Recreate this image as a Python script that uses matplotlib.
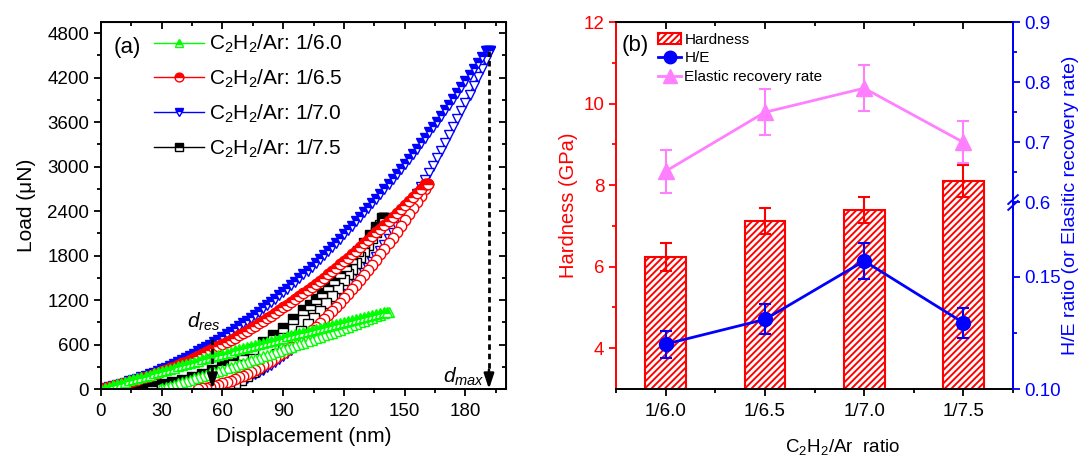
import numpy as np
import matplotlib.pyplot as plt
from matplotlib.ticker import MultipleLocator, FixedLocator
from matplotlib.lines import Line2D
from matplotlib.patches import Patch

plt.rcParams['font.family'] = ['Liberation Sans', 'DejaVu Sans']
plt.rcParams['mathtext.fontset'] = 'custom'
plt.rcParams['mathtext.rm'] = 'Liberation Sans'
plt.rcParams['mathtext.it'] = 'Liberation Sans:italic'
plt.rcParams['hatch.linewidth'] = 1.4

# ---- (a) load-displacement curves: displacement (nm), load (uN) ----
# C2H2/Ar = 1/6.0
g_load_h = [0, 2, 4, 6, 8, 10, 12, 14, 16, 18, 20, 22, 24, 26, 28, 30, 32, 34, 36, 38, 40, 42,
            44, 46, 48, 50, 52, 54, 56, 58, 60, 62, 64, 66, 68, 70, 72, 74, 76, 78, 80, 82, 84,
            86, 88, 90, 92, 94, 96, 98, 100, 102, 104, 106, 108, 110, 112, 114, 116, 118, 120,
            122, 124, 126, 128, 130, 132, 134, 136, 138, 140, 141]
g_load_p = [0, 17, 33, 50, 66, 82, 99, 115, 131, 147, 163, 179, 195, 211, 227, 243, 259, 275,
            290, 306, 322, 337, 353, 368, 383, 399, 414, 429, 444, 460, 475, 490, 505, 520, 534,
            549, 564, 579, 593, 608, 622, 637, 651, 666, 680, 694, 709, 723, 737, 751, 765, 779,
            793, 807, 821, 834, 848, 862, 875, 889, 902, 916, 929, 943, 956, 969, 982, 996, 1009,
            1022, 1035, 1041]
g_unload_h = [142, 140, 138, 136, 134, 132, 130, 128, 126, 124, 122, 120, 118, 116, 114, 112,
              110, 108, 106, 104, 102, 100, 98, 96, 94, 92, 90, 88, 86, 84, 82, 80, 78, 76, 74,
              72, 70, 68, 66, 64, 62, 60, 58, 56, 54, 52, 50, 48, 46, 44, 42, 40, 38, 36, 34, 32,
              30, 29]
g_unload_p = [1040, 1020, 1000, 979, 959, 939, 919, 899, 879, 859, 840, 820, 800, 781, 761, 742,
              723, 703, 684, 665, 646, 627, 608, 589, 571, 552, 533, 515, 496, 478, 460, 441, 423,
              405, 387, 369, 351, 333, 316, 298, 280, 263, 245, 228, 211, 193, 176, 159, 142, 125,
              108, 91, 75, 58, 41, 25, 8, 0]

# C2H2/Ar = 1/6.5
r_load_h = [0, 2, 4, 6, 8, 10, 12, 14, 16, 18, 20, 22, 24, 26, 28, 30, 32, 34, 36, 38, 40, 42,
            44, 46, 48, 50, 52, 54, 56, 58, 60, 62, 64, 66, 68, 70, 72, 74, 76, 78, 80, 82, 84,
            86, 88, 90, 92, 94, 96, 98, 100, 102, 104, 106, 108, 110, 112, 114, 116, 118, 120,
            122, 124, 126, 128, 130, 132, 134, 136, 138, 140, 142, 144, 146, 148, 150, 152, 154,
            156, 158, 160, 160.5, 161, 161.5]
r_load_p = [0, 12, 24, 37, 51, 65, 80, 95, 111, 127, 144, 162, 180, 199, 218, 238, 258, 279,
            301, 323, 346, 369, 393, 418, 443, 468, 494, 521, 549, 576, 605, 634, 664, 694, 725,
            756, 788, 820, 853, 887, 921, 956, 991, 1027, 1064, 1101, 1139, 1177, 1216, 1255,
            1295, 1336, 1377, 1418, 1461, 1503, 1547, 1591, 1635, 1680, 1726, 1772, 1819, 1867,
            1915, 1963, 2012, 2062, 2112, 2163, 2215, 2267, 2319, 2372, 2426, 2480, 2535, 2590,
            2647, 2703, 2760, 2762, 2762, 2760]
r_unload_h = [161.5, 160, 158, 156, 154, 152, 150, 148, 146, 144, 142, 140, 138, 136, 134, 132,
              130, 128, 126, 124, 122, 120, 118, 116, 114, 112, 110, 108, 106, 104, 102, 100, 98,
              96, 94, 92, 90, 88, 86, 84, 82, 80, 78, 76, 74, 72, 70, 68, 66, 64, 62, 60, 58, 56,
              54, 52, 50, 48]
r_unload_p = [2760, 2695, 2608, 2522, 2438, 2355, 2274, 2194, 2116, 2038, 1963, 1888, 1816, 1744,
              1674, 1605, 1538, 1472, 1408, 1345, 1284, 1223, 1165, 1108, 1051, 997, 944, 892,
              842, 793, 746, 700, 655, 612, 570, 530, 491, 454, 417, 383, 349, 318, 287, 258, 230,
              204, 179, 156, 134, 114, 94, 77, 60, 45, 32, 20, 9, 0]

# C2H2/Ar = 1/7.0
b_load_h = [0, 2, 4, 6, 8, 10, 12, 14, 16, 18, 20, 22, 24, 26, 28, 30, 32, 34, 36, 38, 40, 42,
            44, 46, 48, 50, 52, 54, 56, 58, 60, 62, 64, 66, 68, 70, 72, 74, 76, 78, 80, 82, 84,
            86, 88, 90, 92, 94, 96, 98, 100, 102, 104, 106, 108, 110, 112, 114, 116, 118, 120,
            122, 124, 126, 128, 130, 132, 134, 136, 138, 140, 142, 144, 146, 148, 150, 152, 154,
            156, 158, 160, 162, 164, 166, 168, 170, 172, 174, 176, 178, 180, 182, 184, 186, 188,
            190, 190.5, 191, 191.5, 192]
b_load_p = [0, 12, 26, 39, 54, 69, 86, 103, 120, 139, 158, 178, 199, 220, 242, 265, 289, 314,
            339, 365, 392, 419, 448, 477, 506, 537, 568, 600, 633, 667, 701, 736, 772, 809, 846,
            885, 923, 963, 1004, 1045, 1087, 1129, 1173, 1217, 1262, 1308, 1354, 1402, 1450,
            1498, 1548, 1598, 1649, 1701, 1754, 1807, 1861, 1916, 1972, 2028, 2085, 2143, 2202,
            2261, 2321, 2382, 2444, 2506, 2569, 2633, 2698, 2764, 2830, 2897, 2965, 3033, 3102,
            3172, 3243, 3315, 3387, 3460, 3534, 3608, 3684, 3760, 3837, 3914, 3993, 4072, 4152,
            4232, 4314, 4396, 4479, 4562, 4562, 4562, 4560, 4558]
b_unload_h = [192, 190, 188, 186, 184, 182, 180, 178, 176, 174, 172, 170, 168, 166, 164, 162, 160,
              158, 156, 154, 152, 150, 148, 146, 144, 142, 140, 138, 136, 134, 132, 130, 128, 126,
              124, 122, 120, 118, 116, 114, 112, 110, 108, 106, 104, 102, 100, 98, 96, 94, 92, 90,
              88, 86, 84, 82, 80, 78, 76, 74, 72, 70, 68, 66, 64, 62, 60, 58, 57]
b_unload_p = [4558, 4440, 4320, 4203, 4087, 3972, 3859, 3748, 3639, 3531, 3424, 3319, 3216, 3114,
              3014, 2916, 2819, 2724, 2630, 2538, 2448, 2359, 2272, 2187, 2102, 2020, 1939, 1860,
              1782, 1707, 1632, 1559, 1488, 1419, 1351, 1284, 1220, 1156, 1095, 1035, 977, 920,
              865, 811, 759, 709, 660, 613, 568, 524, 481, 440, 401, 364, 328, 294, 261, 230, 200,
              172, 146, 122, 98, 77, 57, 39, 22, 7, 0]

# C2H2/Ar = 1/7.5
k_load_h = [0, 5, 10, 15, 20, 25, 30, 35, 40, 45, 50, 55, 60, 65, 70, 75, 80, 85, 90, 95, 100,
            103, 106, 109, 112, 115, 118, 121, 124, 127, 130, 133, 136, 139, 139.5, 140]
k_load_p = [0, 1, 5, 12, 24, 41, 63, 90, 123, 163, 208, 260, 319, 386, 459, 540, 628, 724, 828,
            940, 1061, 1137, 1216, 1299, 1385, 1473, 1565, 1660, 1759, 1860, 1965, 2073, 2185,
            2300, 2302, 2300]
k_unload_h = [140, 138, 136, 134, 132, 130, 128, 126, 124, 122, 120, 117, 114, 111, 108, 105, 102,
              99, 96, 93, 90, 87, 84, 81, 78, 75, 72, 69, 66, 63, 60]
k_unload_p = [2300, 2210, 2121, 2034, 1949, 1866, 1784, 1704, 1625, 1548, 1473, 1364, 1258, 1156,
              1058, 963, 873, 786, 703, 624, 548, 476, 408, 344, 284, 227, 174, 125, 79, 38, 0]

d_res, d_res_top = 55, 670
d_max, d_max_top = 191.6, 4560

# ---- (b) mechanical properties vs. gas ratio ----
ratios = ['1/6.0', '1/6.5', '1/7.0', '1/7.5']
hardness = [6.24, 7.12, 7.40, 8.10]
hardness_err = [0.35, 0.33, 0.32, 0.40]
h_over_e = [0.120, 0.131, 0.157, 0.1295]
h_over_e_err = [0.006, 0.0067, 0.008, 0.0066]
recovery = [0.652, 0.750, 0.790, 0.700]
recovery_err = [0.036, 0.038, 0.038, 0.035]

GREEN, RED, BLUE, BLACK, PINK = '#00FF00', '#FF0000', '#0000FF', '#000000', '#FF80FF'


def ticks_style(a, major=5, minor=3):
    a.tick_params(which='major', length=major, width=1.3)
    a.tick_params(which='minor', length=minor, width=1.3)


fig = plt.figure(figsize=(10.8, 4.59), dpi=100)
ax = fig.add_axes([0.0935, 0.1525, 0.375, 0.7995])

series = [
    (b_load_h, b_load_p, b_unload_h, b_unload_p, BLUE, 'v', 'C$_2$H$_2$/Ar: 1/7.0'),
    (k_load_h, k_load_p, k_unload_h, k_unload_p, BLACK, 's', 'C$_2$H$_2$/Ar: 1/7.5'),
    (r_load_h, r_load_p, r_unload_h, r_unload_p, RED, 'o', 'C$_2$H$_2$/Ar: 1/6.5'),
    (g_load_h, g_load_p, g_unload_h, g_unload_p, GREEN, '^', 'C$_2$H$_2$/Ar: 1/6.0'),
]
handles = {}
for lh, lp, uh, up, c, m, lab in series:
    ms = 6.5 if m == 's' else 7.5
    ax.plot(uh, up, color=c, lw=1, marker=m, ms=ms, mfc='white', mec=c, mew=1)
    line, = ax.plot(lh, lp, color=c, lw=1, marker=m, ms=ms, fillstyle='top',
                    mfc=c, mfcalt='white', mec=c, mew=1, label=lab)
    handles[lab] = line

order = ['C$_2$H$_2$/Ar: 1/6.0', 'C$_2$H$_2$/Ar: 1/6.5', 'C$_2$H$_2$/Ar: 1/7.0', 'C$_2$H$_2$/Ar: 1/7.5']
ax.legend([handles[k] for k in order], order, loc='upper left', bbox_to_anchor=(0.095, 1.01),
          frameon=False, fontsize=15, handlelength=2.4, handletextpad=0.25,
          labelspacing=0.6, numpoints=1, borderaxespad=0.3, markerscale=0.85)

# residual and maximum depth markers
for xd, ytop in [(d_res, d_res_top), (d_max, d_max_top)]:
    ax.plot([xd, xd], [ytop, 250], color='k', lw=2, ls=(0, (2, 1.4)))
    ax.annotate('', xy=(xd, 0), xytext=(xd, 260),
                arrowprops=dict(arrowstyle='-|>,head_width=0.3,head_length=0.9',
                                color='k', lw=1.8, shrinkA=0, shrinkB=0))
ax.text(d_res - 4, 900, '$d_{res}$', fontsize=15, ha='center', va='center')
ax.text(d_max - 2, 160, '$d_{max}$', fontsize=15, ha='right', va='center')
ax.text(0.03, 0.93, '(a)', transform=ax.transAxes, fontsize=16, va='center')

ax.set_xlim(0, 200)
ax.set_ylim(0, 4950)
ax.xaxis.set_major_locator(MultipleLocator(30))
ax.xaxis.set_minor_locator(MultipleLocator(15))
ax.yaxis.set_major_locator(MultipleLocator(600))
ax.yaxis.set_minor_locator(MultipleLocator(300))
ax.tick_params(which='both', direction='out', labelsize=13.5)
ax.tick_params(axis='x', pad=5)
ticks_style(ax)
for s in ax.spines.values():
    s.set_linewidth(1.4)
top = ax.secondary_xaxis('top')
top.xaxis.set_major_locator(MultipleLocator(30))
top.xaxis.set_minor_locator(MultipleLocator(15))
top.tick_params(which='both', direction='in', labeltop=False)
ticks_style(top)
right = ax.secondary_yaxis('right')
right.yaxis.set_major_locator(MultipleLocator(600))
right.yaxis.set_minor_locator(MultipleLocator(300))
right.tick_params(which='both', direction='in', labelright=False)
ticks_style(right)
ax.set_xlabel('Displacement (nm)', fontsize=15, labelpad=5)
ax.set_ylabel('Load (μN)', fontsize=15, labelpad=8)

# ---- (b) ----
bx = fig.add_axes([0.5704, 0.1525, 0.3676, 0.7995])
x = np.arange(len(ratios))
bx.bar(x, hardness, width=0.41, facecolor='white', edgecolor=RED, linewidth=1.5,
       hatch='/////', zorder=2)
bx.errorbar(x, hardness, yerr=hardness_err, fmt='none', ecolor=RED, elinewidth=1.5,
            capsize=4, capthick=1.5, zorder=3)
bx.set_xlim(-0.5, 3.5)
bx.set_ylim(3, 12)
bx.set_xticks(x)
bx.set_xticklabels(ratios)
bx.xaxis.set_minor_locator(FixedLocator([-0.5, 0.5, 1.5, 2.5, 3.5]))
bx.yaxis.set_major_locator(FixedLocator([4, 6, 8, 10, 12]))
bx.yaxis.set_minor_locator(FixedLocator([5, 7, 9, 11]))
bx.tick_params(which='both', direction='out', labelsize=13.5)
bx.tick_params(axis='x', pad=5)
ticks_style(bx)
bx.tick_params(axis='y', which='both', colors=RED)
for s in bx.spines.values():
    s.set_linewidth(1.4)
bx.spines['left'].set_color(RED)
btop = bx.secondary_xaxis('top')
btop.set_xticks(x)
btop.xaxis.set_minor_locator(FixedLocator([0.5, 1.5, 2.5]))
btop.tick_params(which='both', direction='in', labeltop=False)
ticks_style(btop)
bx.set_ylabel('Hardness (GPa)', fontsize=14.5, color=RED, labelpad=4)
bx.set_xlabel('C$_2$H$_2$/Ar  ratio', fontsize=13.5)
bx.xaxis.set_label_coords(0.57, -0.13)
bx.text(0.015, 0.935, '(b)', transform=bx.transAxes, fontsize=16, va='center')

# broken right axis: 0.10-0.183 below the break, 0.6-0.9 above it
BREAK = 1.661


def fwd(v):
    v = np.asarray(v, dtype=float)
    return np.where(v < 0.4, (v - 0.1) / 0.05, BREAK + (v - 0.6) / 0.1 * 0.5357)


def inv(y):
    y = np.asarray(y, dtype=float)
    return np.where(y < BREAK, 0.1 + 0.05 * y, 0.6 + (y - BREAK) / 0.5357 * 0.1)


bx2 = bx.twinx()
bx2.set_yscale('function', functions=(fwd, inv))
bx2.set_ylim(0.1, 0.9)
bx2.errorbar(x, h_over_e, yerr=h_over_e_err, color=BLUE, lw=2, marker='o', ms=10,
             elinewidth=1.5, capsize=4, capthick=1.5, zorder=4)
bx2.errorbar(x, recovery, yerr=recovery_err, color=PINK, lw=2, marker='^', ms=11,
             elinewidth=1.5, capsize=4, capthick=1.5, zorder=4)
bx2.yaxis.set_major_locator(FixedLocator([0.10, 0.15, 0.6, 0.7, 0.8, 0.9]))
bx2.yaxis.set_minor_locator(FixedLocator([0.125, 0.65, 0.75, 0.85]))
bx2.set_yticklabels(['0.10', '0.15', '0.6', '0.7', '0.8', '0.9'])
bx2.tick_params(which='both', direction='out', labelsize=13.5, colors=BLUE, pad=3)
ticks_style(bx2)
for side in ['left', 'top', 'bottom']:
    bx2.spines[side].set_visible(False)
bx2.spines['right'].set_color(BLUE)
bx2.spines['right'].set_linewidth(1.4)
bx2.set_ylabel('H/E ratio (or Elasitic recovery rate)', fontsize=14, color=BLUE, labelpad=1)

# break marks on the right spine
yb = (fwd(0.6) - fwd(0.1)) / (fwd(0.9) - fwd(0.1))
for dy in (-0.008, 0.008):
    bx2.plot([0.988, 1.012], [yb + dy - 0.012, yb + dy + 0.012], transform=bx2.transAxes,
             color=BLUE, lw=1.4, clip_on=False, zorder=6)

leg_handles = [
    Patch(facecolor='white', edgecolor=RED, hatch='/////', linewidth=1.5),
    Line2D([], [], color=BLUE, lw=2, marker='o', ms=9),
    Line2D([], [], color=PINK, lw=2, marker='^', ms=10),
]
bx2.legend(leg_handles, ['Hardness', 'H/E', 'Elastic recovery rate'], loc='upper left',
           bbox_to_anchor=(0.08, 1.0), frameon=False, fontsize=11, handlelength=1.5,
           handletextpad=0.2, labelspacing=0.3, borderaxespad=0.3)

fig.savefig('out.png', dpi=100)
